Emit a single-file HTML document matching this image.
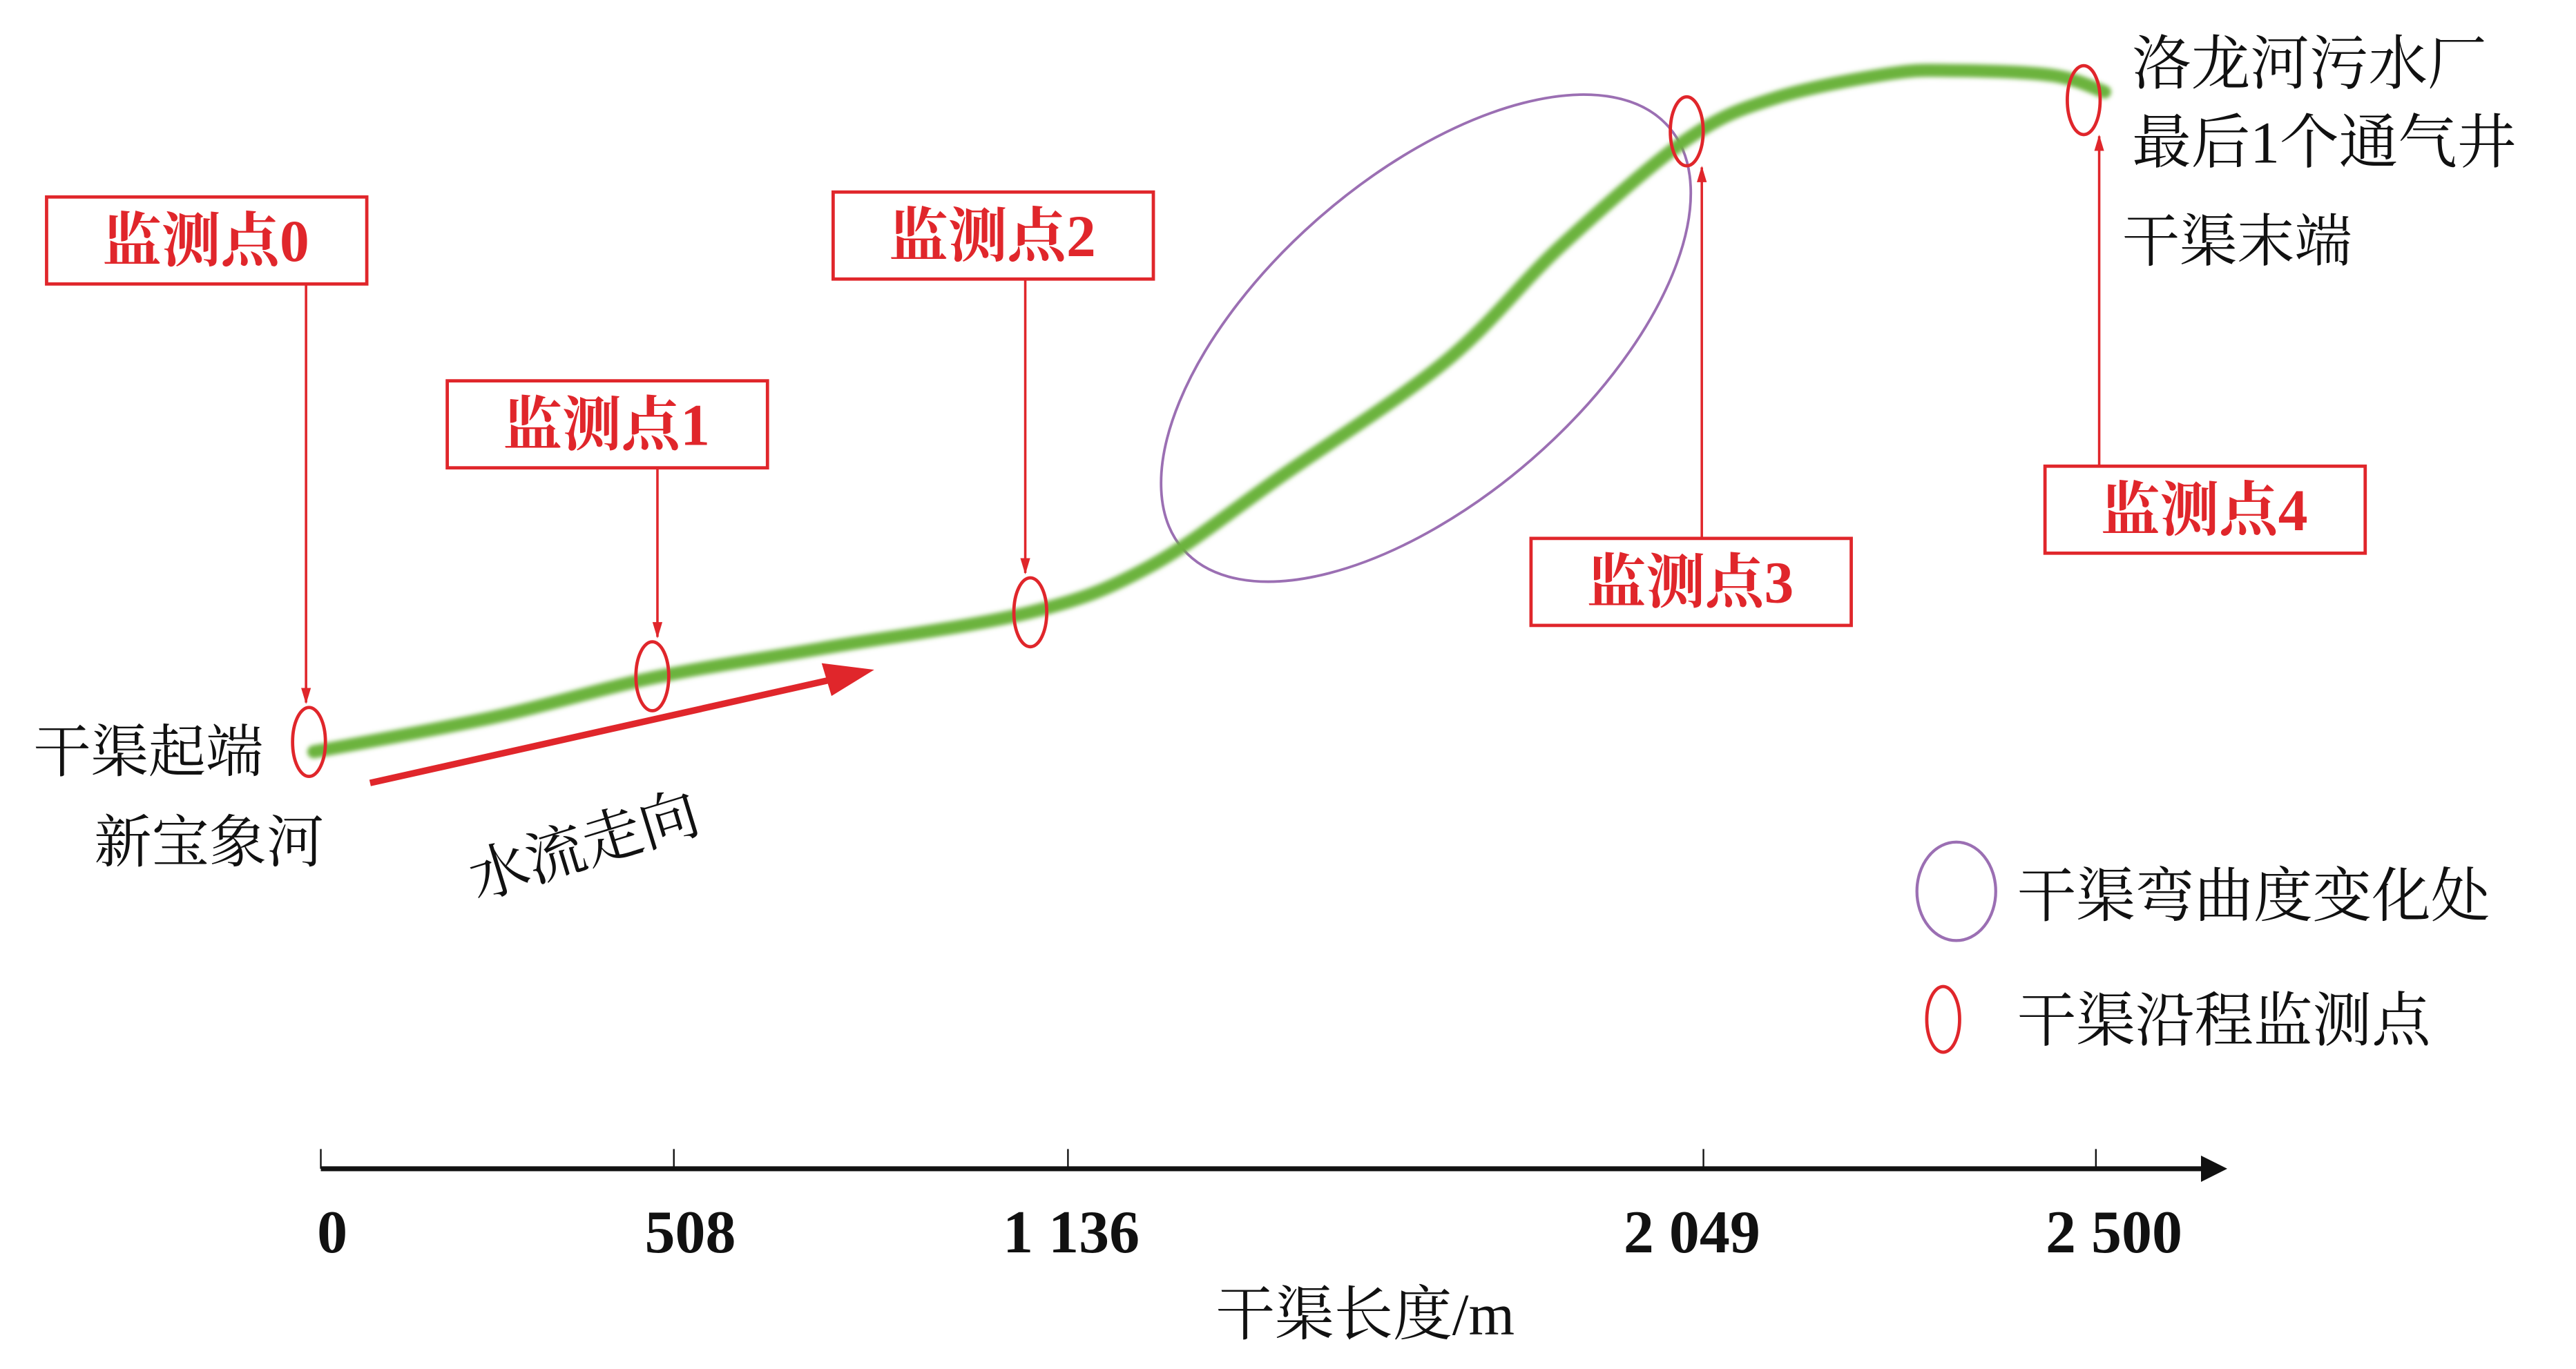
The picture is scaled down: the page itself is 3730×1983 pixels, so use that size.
<!DOCTYPE html>
<html><head><meta charset="utf-8"><style>
html,body{margin:0;padding:0;background:#fff;}
svg{display:block;}
text{font-family:"Liberation Serif","Noto Serif CJK SC",serif;}
</style></head><body>
<svg id="chart" width="3730" height="1983" viewBox="0 0 1568 834" xmlns="http://www.w3.org/2000/svg">
<defs>
<filter id="blur" x="-5%" y="-20%" width="110%" height="140%"><feGaussianBlur stdDeviation="1.3"/></filter>
<marker id="arrRed" markerWidth="10" markerHeight="10" refX="9" refY="3" orient="auto" markerUnits="userSpaceOnUse" viewBox="0 0 10 6"><path d="M0,0 L10,3 L0,6 Z" fill="#e0262b"/></marker>
</defs>
<g id="plot"></g>
</svg>
<script>
// data
const tickValues = [0, 508, 1136, 2049, 2500];
const tickLabels = ["0", "508", "1 136", "2 049", "2 500"];
const profileDist = [-10, 248, 477, 744, 1076, 1254, 1443, 1679, 1844, 2025, 2130, 2262, 2338, 2451, 2510];
const profileElev = [12, 33, 57, 75, 97, 125, 180, 250, 320, 385, 410, 425, 427, 424, 414];
const pointNames = ["监测点0", "监测点1", "监测点2", "监测点3", "监测点4"];
const pointDist = [-17, 477, 1076, 2025, 2486];
const pointElev = [18, 58, 97, 390, 409];

const NS = "http://www.w3.org/2000/svg";
const g = document.getElementById('plot');
function mk(tag, attrs, parent) {
  const e = document.createElementNS(NS, tag);
  for (const k in attrs) e.setAttribute(k, attrs[k]);
  (parent || g).appendChild(e);
  return e;
}
// axis functions (axis drawn piecewise, non-uniform as in original)
function x(v) {
  const d = [0, 508, 1136, 2049, 2500], r = [195, 410, 650, 1037, 1276];
  if (v <= d[0]) return r[0] + (v - d[0]) * (r[1] - r[0]) / (d[1] - d[0]);
  for (let i = 0; i < d.length - 1; i++) {
    if (v <= d[i + 1]) return r[i] + (v - d[i]) * (r[i + 1] - r[i]) / (d[i + 1] - d[i]);
  }
  const n = d.length - 1;
  return r[n] + (v - d[n]) * (r[n] - r[n - 1]) / (d[n] - d[n - 1]);
}
function y(e) { return 470 - e; }

// x axis
const axis = mk('line', {x1: 195, y1: 712, x2: 1345, y2: 712, stroke: '#111', 'stroke-width': 3});


const ah = mk('path', {d: 'M1340,704 L1356,712 L1340,720 Z', fill: '#111'});


const labelOffsets = [7, 10, 2, -7, 11];
tickValues.forEach((v, i) => {
  const t = mk('line', {x1: x(v), y1: 700, x2: x(v), y2: 712, stroke: '#111', 'stroke-width': 1});
  
  
  const l = mk('text', {x: x(v) + labelOffsets[i], y: 763, 'text-anchor': 'middle', 'font-size': 37, 'font-weight': 'bold', fill: '#111'});
  l.textContent = tickLabels[i];
  
  
});
const at = mk('text', {x: 831, y: 813, 'text-anchor': 'middle', 'font-size': 36, fill: '#111'});
at.textContent = '干渠长度/m';



// purple bend ellipse
const pe = mk('ellipse', {cx: 868, cy: 206, rx: 196, ry: 98, transform: 'rotate(-41 868 206)', fill: 'none', stroke: '#9b6fb3', 'stroke-width': 1.6});



// profile line (Catmull-Rom)
const pts = profileDist.map((d, i) => [x(d), y(profileElev[i])]);
let dstr = 'M' + pts[0][0] + ',' + pts[0][1];
for (let i = 0; i < pts.length - 1; i++) {
  const p0 = pts[i - 1] || pts[i], p1 = pts[i], p2 = pts[i + 1], p3 = pts[i + 2] || p2;
  const c1 = [p1[0] + (p2[0] - p0[0]) / 6, p1[1] + (p2[1] - p0[1]) / 6];
  const c2 = [p2[0] - (p3[0] - p1[0]) / 6, p2[1] - (p3[1] - p1[1]) / 6];
  dstr += ' C' + c1.join(',') + ' ' + c2.join(',') + ' ' + p2.join(',');
}
const line = mk('path', {d: dstr, fill: 'none', stroke: '#6cb33e', 'stroke-width': 8, 'stroke-linecap': 'round', filter: 'url(#blur)'});



// monitoring points & label boxes
const boxes = [[28, 120, 1], [272, 232, 1], [507, 117, 1], [932, 328, -1], [1245, 284, -1]];
const arrowX = [186, 400, 624, 1036, 1278];
pointDist.forEach((d, i) => {
  const px = x(d), py = y(pointElev[i]);
  const el = mk('ellipse', {cx: px, cy: py, rx: 10, ry: 21, fill: 'none', stroke: '#e0262b', 'stroke-width': 2});
  
  
  const [bx, by, dir] = boxes[i];
  const r = mk('rect', {x: bx, y: by, width: 195, height: 53, fill: '#fff', stroke: '#e0262b', 'stroke-width': 2});
  
  
  const t = mk('text', {x: bx + 97, y: by + 39, 'text-anchor': 'middle', 'font-size': 36, 'font-weight': 'bold', fill: '#e0262b'});
  t.textContent = pointNames[i];
  
  
  let a;
  if (dir > 0) a = mk('line', {x1: arrowX[i], y1: by + 53, x2: arrowX[i], y2: py - 24, stroke: '#e0262b', 'stroke-width': 1.5, 'marker-end': 'url(#arrRed)'});
  else a = mk('line', {x1: arrowX[i], y1: by, x2: arrowX[i], y2: py + 22, stroke: '#e0262b', 'stroke-width': 1.5, 'marker-end': 'url(#arrRed)'});
  
  
});

// flow arrow
const fa = mk('line', {x1: 225, y1: 477, x2: 515, y2: 412, stroke: '#e0262b', 'stroke-width': 4});


const fah = mk('path', {d: 'M532,408 L500,404 L506,424 Z', fill: '#e0262b'});



// texts
function txt(s, tx, ty, name, size, extra) {
  const t = mk('text', Object.assign({x: tx, y: ty, 'font-size': size || 35, fill: '#111'}, extra || {}));
  t.textContent = s;
  
  
  return t;
}
txt('干渠起端', 20, 470, 'canal-start-label');
txt('新宝象河', 57, 525, 'xinbaoxiang-river-label');
txt('水流走向', 290, 548, 'flow-direction-label', 36, {transform: 'rotate(-17 290 548)'});
txt('洛龙河污水厂', 1298, 51, 'luolong-plant-label', 36);
txt('最后1个通气井', 1298, 99, 'last-vent-well-label', 36);
txt('干渠末端', 1292, 159, 'canal-end-label', 35);

// legend
const lp = mk('ellipse', {cx: 1191, cy: 543, rx: 24, ry: 30, fill: 'none', stroke: '#9b6fb3', 'stroke-width': 1.8});


txt('干渠弯曲度变化处', 1228, 558, 'legend-curvature-text', 36);
const lr = mk('ellipse', {cx: 1183, cy: 621, rx: 10, ry: 20, fill: 'none', stroke: '#e0262b', 'stroke-width': 2});


txt('干渠沿程监测点', 1228, 634, 'legend-monitoring-text', 36);
</script>
</body></html>
